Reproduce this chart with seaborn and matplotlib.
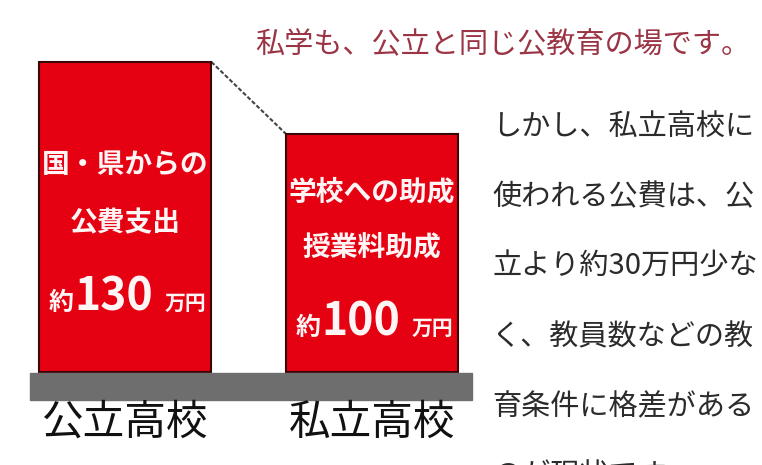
import matplotlib
matplotlib.use("Agg")
import matplotlib.pyplot as plt
import matplotlib.patches as mpatches
import seaborn as sns

sns.set_style("white")
plt.rcParams['font.family'] = ['Noto Sans CJK JP', 'DejaVu Sans']

# data
schools = ["公立高校", "私立高校"]
funding = [130, 100]
bar_lines = [["国・県からの", "公費支出"], ["学校への助成", "授業料助成"]]
amount_labels = ["130", "100"]
title = "私学も、公立と同じ公教育の場です。"
body_lines = ["しかし、私立高校に", "使われる公費は、公", "立より約30万円少な",
              "く、教員数などの教", "育条件に格差がある", "のが現状です。"]

W, H = 762, 465
fig = plt.figure(figsize=(W / 100, H / 100), dpi=100)
ax = fig.add_axes([0, 0, 1, 1])

sns.barplot(x=schools, y=funding, color="#e50012", saturation=1, width=0.7,
            edgecolor="#3a0505", linewidth=1.5, ax=ax, zorder=2)

# pixel layout -> data limits
ax.set_xlim(-125 / 247, (W - 125) / 247)
ax.set_ylim(-93 / 2.3846, (H - 93) / 2.3846)
ax.axis("off")

# grey floor under the bars
ax.add_patch(mpatches.Rectangle((-0.385, -11.7), 1.79, 11.3, color="#6e6e6e", zorder=3))

# dashed connector between bar tops
p1, p2 = ax.patches[0], ax.patches[1]
ax.plot([p1.get_x() + p1.get_width(), p2.get_x()], [p1.get_height(), p2.get_height()],
        ls=(0, (2, 1)), color="#444444", lw=1.5, zorder=1)

# text inside the bars
line_y = [(86.8, 62.5), (75.1, 52.4)]
base_y = [26.0, 15.5]
for i in range(len(schools)):
    for txt, y in zip(bar_lines[i], line_y[i]):
        ax.text(i, y, txt, ha="center", va="center", color="#fff5f5",
                fontsize=20, fontweight="bold", zorder=4)
    ax.text(i - 0.26, base_y[i], "約", ha="center", va="baseline", color="#fff5f5",
            fontsize=18, fontweight="bold", zorder=4)
    ax.text(i - 0.045, base_y[i], amount_labels[i], ha="center", va="baseline", color="#fff5f5",
            fontsize=32, fontweight="bold", zorder=4)
    ax.text(i + 0.245, base_y[i], "万円", ha="center", va="baseline", color="#fff5f5",
            fontsize=15, fontweight="bold", zorder=4)
    ax.text(i, -13.0, schools[i], ha="center", va="top", color="#111111", fontsize=30)

fig.text(255 / W, 1 - 45 / H, title, ha="left", va="center", fontsize=21, color="#9b3545")
for k, line in enumerate(body_lines):
    fig.text(492 / W, 1 - (127 + 70 * k) / H, line, ha="left", va="center",
             fontsize=21, color="#2b2b2b")

fig.savefig("out.png", dpi=100)
